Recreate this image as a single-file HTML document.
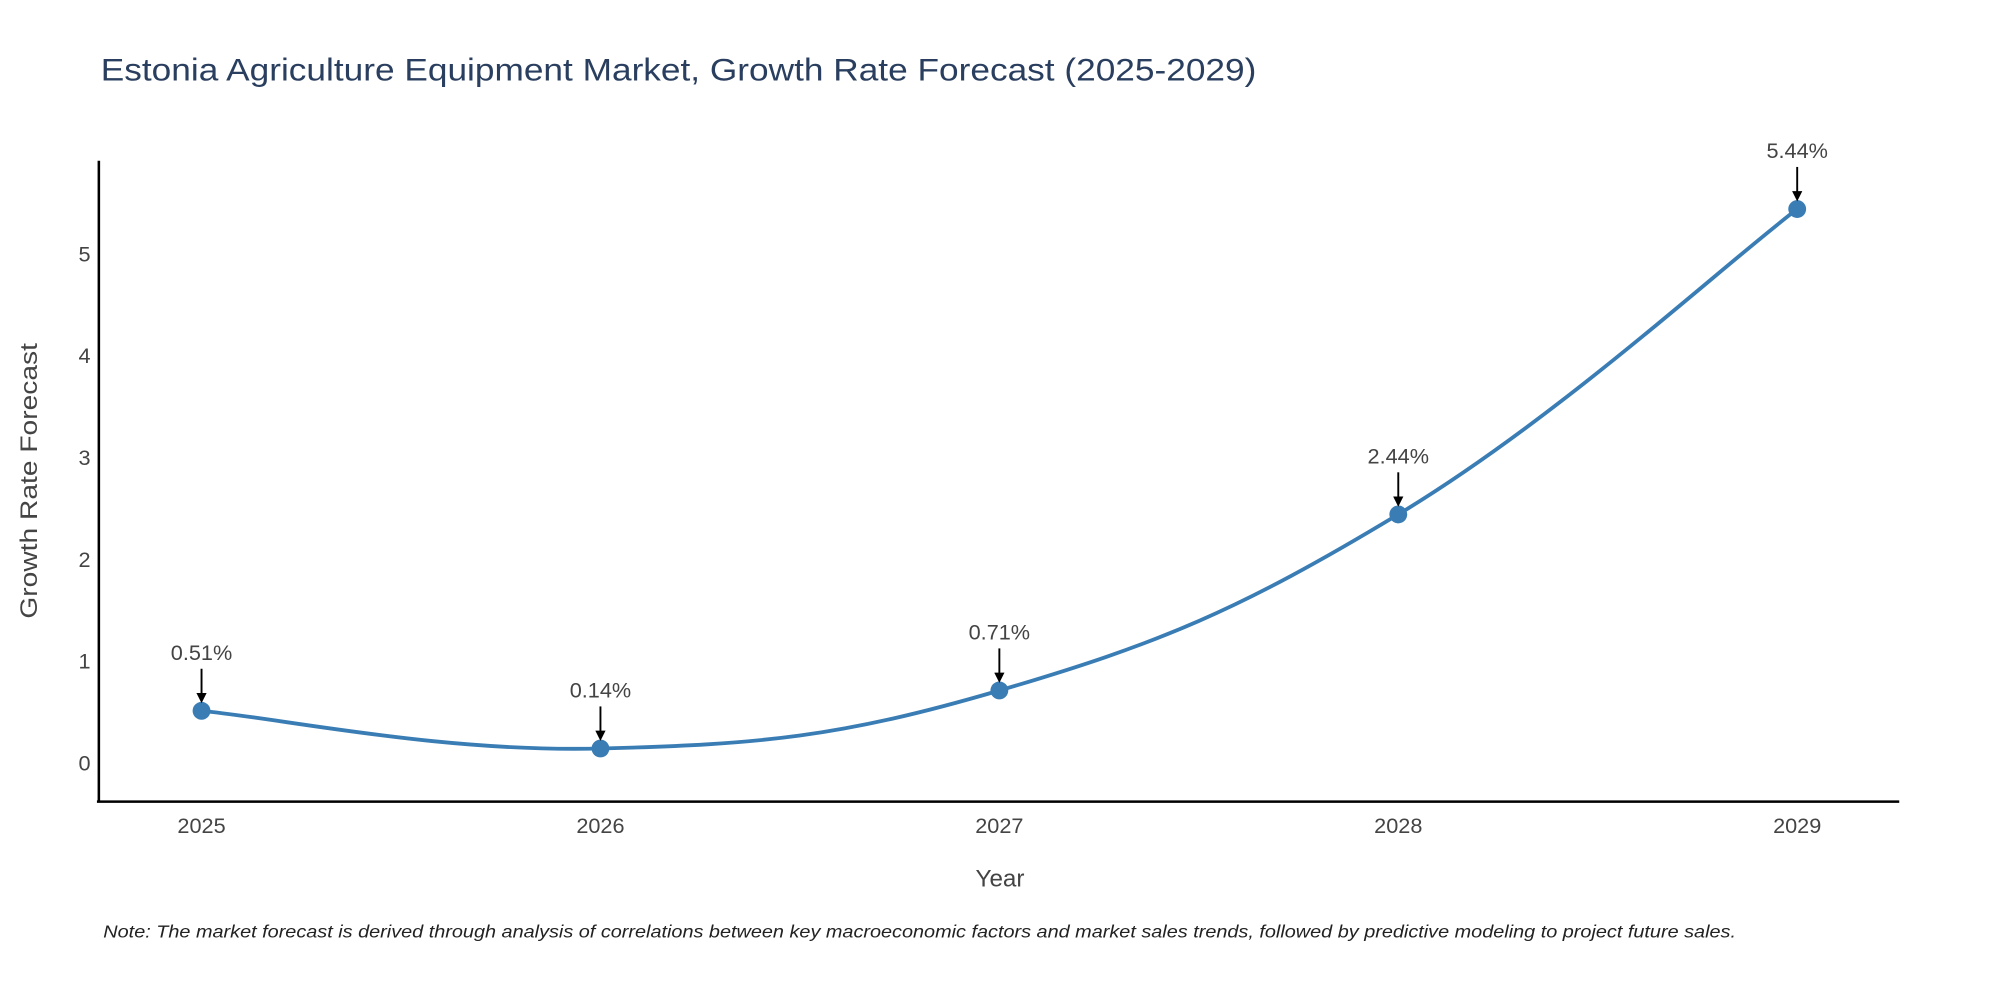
<!DOCTYPE html>
<html><head><meta charset="utf-8"><style>
html,body{margin:0;padding:0;background:#fff;}
svg{display:block;font-family:"Liberation Sans",sans-serif;}
</style></head><body>
<svg id="chart" width="2000" height="1000" viewBox="0 0 1568 784" xmlns="http://www.w3.org/2000/svg">
<defs><marker id="ah" markerWidth="8" markerHeight="8" refX="6" refY="4" orient="auto" markerUnits="userSpaceOnUse" viewBox="0 0 8 8"><path d="M0,0 L8,4 L0,8 z" fill="#000"/></marker></defs>
<text x="79" y="63" font-size="25" fill="#2a3f5f" textLength="906" lengthAdjust="spacingAndGlyphs">Estonia Agriculture Equipment Market, Growth Rate Forecast (2025-2029)</text>
<g id="yticks"></g><g id="xticks"></g>
<path id="line" fill="none" stroke="#3a7db5" stroke-width="3"/>
<g id="points"></g><g id="annots"></g>
<line x1="77.5" y1="126" x2="77.5" y2="629" stroke="#000" stroke-width="2"/>
<line x1="76" y1="628.5" x2="1489" y2="628.5" stroke="#000" stroke-width="2"/>
<text transform="translate(29,377) rotate(-90)" text-anchor="middle" font-size="19" fill="#444" textLength="216" lengthAdjust="spacingAndGlyphs">Growth Rate Forecast</text>
<text x="784" y="695" text-anchor="middle" font-size="19" fill="#444">Year</text>
<text x="81" y="735" font-size="14" font-style="italic" fill="#222" textLength="1280" lengthAdjust="spacingAndGlyphs">Note: The market forecast is derived through analysis of correlations between key macroeconomic factors and market sales trends, followed by predictive modeling to project future sales.</text>
</svg>
<script>
const years = [2025, 2026, 2027, 2028, 2029];
const values = [0.51, 0.14, 0.71, 2.44, 5.44];
const labels = ["0.51%", "0.14%", "0.71%", "2.44%", "5.44%"];
const yTicks = [0, 1, 2, 3, 4, 5];

const NS = "http://www.w3.org/2000/svg";
function xs(yr){ return 158 + (yr - 2025) * 312.75; }
function ys(v){ return 598 - v * 79.8; }
function mk(tag, attrs, parent){ const e = document.createElementNS(NS, tag); for (const k in attrs) e.setAttribute(k, attrs[k]); parent.appendChild(e); return e; }

const yg = document.getElementById('yticks');
yTicks.forEach(t => {
  const e = mk('text', {x: 71, y: ys(t) + 6, 'text-anchor': 'end', 'font-size': 17, fill: '#444'}, yg);
  
  
  e.textContent = t;
});
const xg = document.getElementById('xticks');
years.forEach(y => {
  const e = mk('text', {x: xs(y), y: 653, 'text-anchor': 'middle', 'font-size': 17, fill: '#444'}, xg);
  
  
  e.textContent = y;
});

const P = years.map((y, i) => [xs(y), ys(values[i])]);
let d = 'M' + P[0][0] + ',' + P[0][1];
const t = 0.2;
for (let i = 0; i < P.length - 1; i++) {
  const p0 = P[Math.max(i - 1, 0)], p1 = P[i], p2 = P[i + 1], p3 = P[Math.min(i + 2, P.length - 1)];
  const c1 = [p1[0] + (p2[0] - p0[0]) * t, p1[1] + (p2[1] - p0[1]) * t];
  const c2 = [p2[0] - (p3[0] - p1[0]) * t, p2[1] - (p3[1] - p1[1]) * t];
  d += ' C' + c1 + ' ' + c2 + ' ' + p2;
}
document.getElementById('line').setAttribute('d', d);

const pg = document.getElementById('points'), ag = document.getElementById('annots');
P.forEach((p, i) => {
  const c = mk('circle', {cx: p[0], cy: p[1], r: 7, fill: '#3a7db5'}, pg);
  
  
  const a = mk('line', {x1: p[0], y1: p[1] - 33, x2: p[0], y2: p[1] - 8, stroke: '#000', 'stroke-width': 1.5, 'marker-end': 'url(#ah)'}, ag);
  
  
  const tx = mk('text', {x: p[0], y: p[1] - 40, 'text-anchor': 'middle', 'font-size': 17, fill: '#444'}, ag);
  
  
  tx.textContent = labels[i];
});
</script>
</body></html>
